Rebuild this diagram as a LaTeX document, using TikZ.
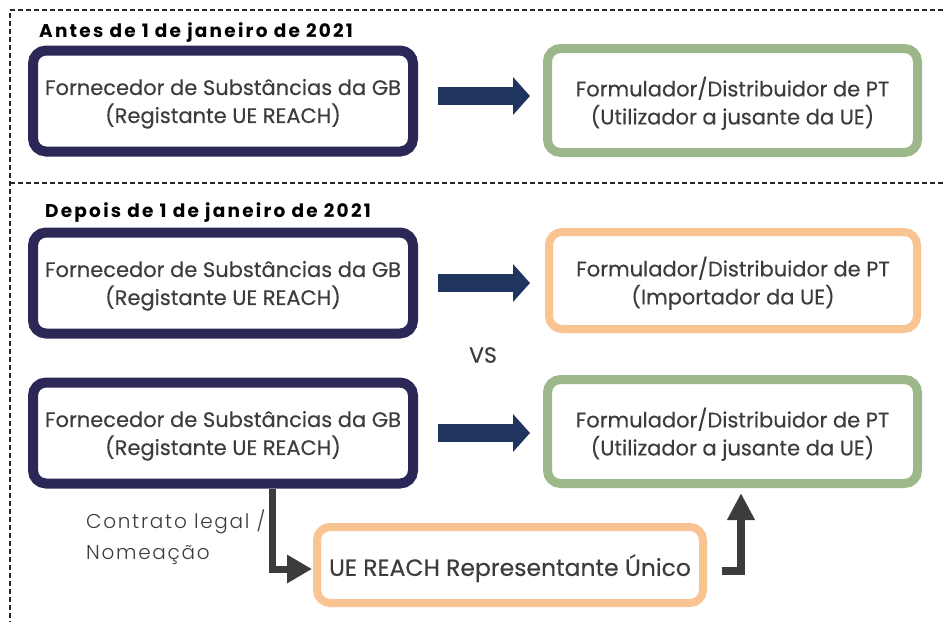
\documentclass[tikz,border=0pt]{standalone}
\usepackage{fontspec}
\setmainfont{Poppins}
\newfontfamily\lightfont[LetterSpace=8.5]{Poppins Light}
\newfontfamily\boxfont[FakeBold=0.3]{Poppins}
\newfontfamily\headfont[LetterSpace=12]{Poppins}
\usetikzlibrary{arrows.meta}
\definecolor{navy}{HTML}{2B2757}
\definecolor{arrnavy}{HTML}{1F3560}
\definecolor{sage}{HTML}{9CB88B}
\definecolor{peach}{HTML}{F9C392}
\definecolor{txt}{HTML}{3C3C3C}
\definecolor{conn}{HTML}{3C3C3C}
\begin{document}
\begin{tikzpicture}[x=1pt,y=-1pt,
  box/.style={draw, rounded corners=13pt, align=center, outer sep=0pt, inner sep=0pt,
    text depth=0pt, font=\boxfont\fontsize{21}{28}\selectfont, text=txt},
  navybox/.style={box, draw=navy, line width=10pt, minimum width=380pt, minimum height=101pt},
  sagebox/.style={box, draw=sage, line width=9pt, minimum width=370pt, minimum height=104pt},
  peachbox/.style={box, draw=peach, line width=8pt},
  blockarrow/.style={draw=arrnavy, line width=18pt,
    -{Triangle[length=17pt,width=37pt]}, shorten <=25pt},
  elbow/.style={draw=conn, line join=miter},
  heading/.style={font=\headfont\fontsize{18.5}{20}\selectfont\bfseries, text=black, anchor=west, inner sep=0pt},
  dashline/.style={draw=black!85, line width=1.3pt, dash pattern=on 5pt off 3pt}
]
\useasboundingbox (0,0) rectangle (943,622);

% dashed frame
\coordinate (tl) at (10,10);
\coordinate (tr) at (943,10);
\coordinate (ml) at (10,183);
\coordinate (mr) at (943,183);
\coordinate (bl) at (10,622);
\draw[dashline] (tr) -- (tl) -- (bl);
\draw[dashline] (ml) -- (mr);

% headings
\node[heading] (h1) at (39,33) {Antes de 1 de janeiro de 2021};
\node[heading] (h2) at (45,213) {Depois de 1 de janeiro de 2021};

% boxes
\node[navybox] (b1) at (223,101) {Fornecedor de Substâncias da GB\\(Registante UE REACH)};
\node[sagebox] (b2) at (732.5,100.5) {Formulador/Distribuidor de PT\\(Utilizador a jusante da UE)};
\node[navybox] (b3) at (223,283) {Fornecedor de Substâncias da GB\\(Registante UE REACH)};
\node[peachbox, minimum width=368pt, minimum height=97pt] (b4) at (733,280.5) {Formulador/Distribuidor de PT\\(Importador da UE)};
\node[navybox] (b5) at (223,433) {Fornecedor de Substâncias da GB\\(Registante UE REACH)};
\node[sagebox] (b6) at (732.5,431.5) {Formulador/Distribuidor de PT\\(Utilizador a jusante da UE)};
\node[peachbox, minimum width=386pt, minimum height=76pt, font=\boxfont\fontsize{23.5}{28}\selectfont] (b7) at (510,565) {UE REACH Representante Único};

\node[font=\boxfont\fontsize{22}{24}\selectfont, text=txt] (vs) at (483,355) {VS};

% block arrows
\draw[blockarrow, shorten >=17.5pt] ([yshift=5pt]b1.east) -- ([yshift=5pt]b1.east -| b2.west);
\draw[blockarrow, shorten >=19pt] (b3.east) -- (b3.east -| b4.west);
\draw[blockarrow, shorten >=17.5pt] (b5.east) -- (b5.east -| b6.west);

% elbow connectors
\draw[elbow, line width=7pt, -{Triangle[length=25pt,width=27pt]}, shorten <=5pt, shorten >=5pt]
  ([xshift=49.5pt]b5.south) |- ([yshift=-4pt]b7.west);
\draw[elbow, line width=8pt, -{Triangle[length=27pt,width=26pt]}, shorten <=19pt, shorten >=9.5pt]
  ([yshift=-6pt]b7.east) -| ([xshift=8.5pt]b6.south);

% label
\node[anchor=west, align=left, inner sep=0pt, text=txt,
  font=\lightfont\fontsize{20}{31}\selectfont] (lbl) at (86,537.5) {Contrato legal /\\Nomeação};
\end{tikzpicture}
\end{document}
